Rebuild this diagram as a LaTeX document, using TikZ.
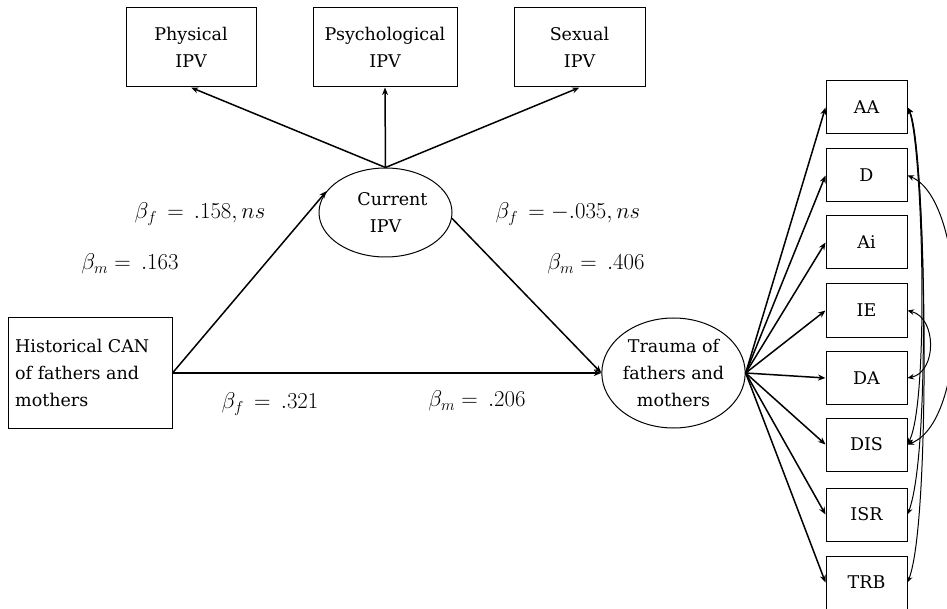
\documentclass[tikz,border=0pt]{standalone}
\usepackage{graphicx}
\usepackage{fontspec}
\setmainfont{DejaVu Serif}
\usetikzlibrary{shapes.geometric,arrows.meta}
\newcommand{\biglab}[1]{\scalebox{1.1}{$#1$}}
\begin{document}
\begin{tikzpicture}[x=1pt,y=-1pt,
  box/.style={draw,line width=1pt,inner sep=0pt,align=center,font=\fontsize{17.5}{27}\selectfont},
  oval/.style={draw,ellipse,line width=1pt,inner sep=0pt,align=center,font=\fontsize{17.5}{27}\selectfont},
  arr/.style={line width=1.5pt,-{Stealth[length=7.5pt,width=6pt]}},
  cov/.style={line width=1pt,{Stealth[length=6.5pt,width=5.5pt]}-{Stealth[length=6.5pt,width=5.5pt]}},
  lab/.style={font=\fontsize{20.74}{24}\selectfont}]
\useasboundingbox (0,0) rectangle (947,609);
% top boxes
\node[box,minimum width=130pt,minimum height=79pt] (phys) at (191,47.5) {Physical\\IPV};
\node[box,minimum width=144pt,minimum height=79pt] (psych) at (385,47.5) {Psychological\\IPV};
\node[box,minimum width=131pt,minimum height=79pt] (sex) at (579.5,47.5) {Sexual\\IPV};
% ellipses
\node[oval,minimum width=133pt,minimum height=89pt] (cur) at (385.5,212.5) {\hspace*{14pt}Current\\IPV};
\node[oval,minimum width=143pt,minimum height=110pt] (trauma) at (673.5,373) {Trauma of\\fathers and\\mothers};
% historical
\node[draw,line width=1pt,minimum width=164pt,minimum height=110pt] (hist) at (90,373) {};
\node[anchor=west,inner sep=0pt,align=left,font=\fontsize{17.5}{27}\selectfont] (histtext) at (15,373) {Historical CAN\\of fathers and\\mothers};
% right boxes
\foreach \n/\t/\y in {AA/AA/107.5, D/D/175.5, Ai/Ai/242.5, IE/IE/310.5, DA/DA/378, DIS/DIS/444.5, ISR/ISR/514.5, TRB/TRB/582.5}{
  \node[box,minimum width=81pt,minimum height=53pt] (\n) at (866.5,\y) {\t};
}
% arrows from current IPV
\coordinate (ctop) at (cur.north);
\draw[arr] (ctop) -- (phys.south);
\draw[arr] (ctop) -- (psych.south);
\draw[arr] (ctop) -- (sex.south);
\draw[arr] (hist.east) -- (cur.160);
\draw[arr] (cur.-5) -- (trauma.west);
\draw[arr] (hist.east) -- (trauma.west);
% fan
\coordinate (tr) at (trauma.east);
\foreach \n in {AA,D,Ai,IE,DA,DIS,ISR,TRB}{
  \draw[arr] (tr) -- (\n.west);
}
% covariances
\draw[cov] (AA.east) .. controls (922,140) and (930,400) .. (DIS.east);
\draw[cov] (AA.east) .. controls (924,140) and (932,450) .. (ISR.east);
\draw[cov] (AA.east) .. controls (926,140) and (932,520) .. (TRB.east);
\draw[cov] (D.east) .. controls (968,200) and (972,420) .. (DIS.east);
\draw[cov] (IE.east) .. controls (937,318) and (937,372) .. (DA.east);
% labels
\node[lab] (l1) at (200,214) {\biglab{\beta_f\,=\,.158, ns}};
\node[lab] (l2) at (130,264) {\biglab{\beta_m=\,.163}};
\node[lab] (l3) at (568,214) {\biglab{\beta_f\,=-.035, ns}};
\node[lab] (l4) at (596,264) {\biglab{\beta_m=\,.406}};
\node[lab] (l5) at (270,404) {\biglab{\beta_f\,=\,.321}};
\node[lab] (l6) at (477,401) {\biglab{\beta_m=\,.206}};
\end{tikzpicture}
\end{document}
